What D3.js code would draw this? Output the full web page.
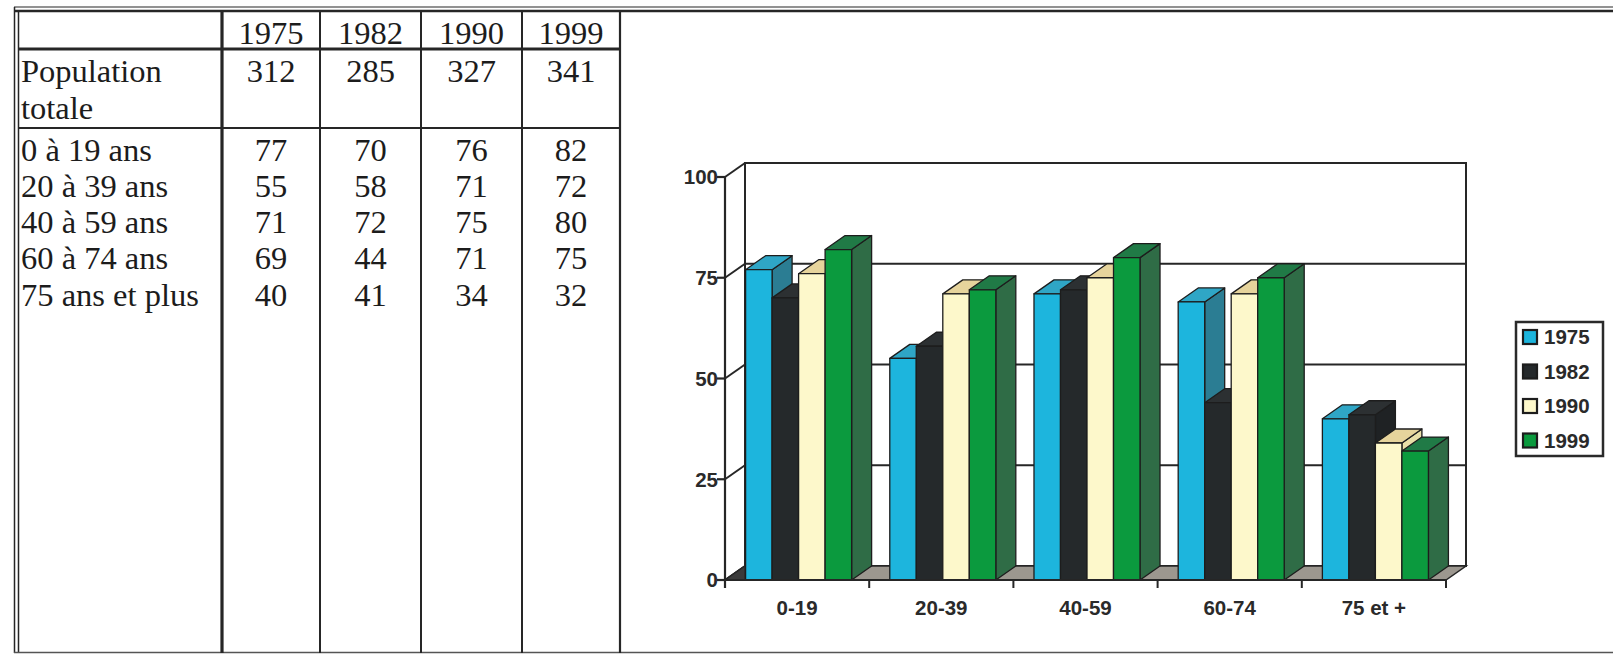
<!DOCTYPE html>
<html>
<head>
<meta charset="utf-8">
<script src="https://cdn.jsdelivr.net/npm/d3@7"></script>
<style>
  html, body { margin: 0; padding: 0; background: #fff; }
  svg { display: block; }
</style>
</head>
<body>
<svg id="fig" width="1613" height="655"></svg>
<script>
// ---- data ----------------------------------------------------------
const years = ["1975", "1982", "1990", "1999"];
const totals = [312, 285, 327, 341];
const ageRows = ["0 à 19 ans", "20 à 39 ans", "40 à 59 ans", "60 à 74 ans", "75 ans et plus"];
const ageGroups = ["0-19", "20-39", "40-59", "60-74", "75 et +"];
const v1975 = [77, 55, 71, 69, 40];
const v1982 = [70, 58, 72, 44, 41];
const v1990 = [76, 71, 75, 71, 34];
const v1999 = [82, 72, 80, 75, 32];
const yTicks = [0, 25, 50, 75, 100];

const series = [v1975, v1982, v1990, v1999];

// face colours per year: front, side, top
const palette = {
  "1975": { front: "#1db5dd", side: "#2b7d93", top: "#2fa6c6" },
  "1982": { front: "#25292b", side: "#1f2224", top: "#2c3032" },
  "1990": { front: "#fdf8cb", side: "#e9dfa8", top: "#e6d49c" },
  "1999": { front: "#0b9a3e", side: "#2f6c46", top: "#207a46" }
};

const ink = "#262626";
const svg = d3.select("#fig");

// ---- frame and table ------------------------------------------------
const frame = svg.append("g").attr("stroke", ink).attr("fill", "none");
frame.append("line").attr("x1", 14).attr("x2", 1613).attr("y1", 7).attr("y2", 7).attr("stroke-width", 1.2);
frame.append("line").attr("x1", 14).attr("x2", 1613).attr("y1", 11).attr("y2", 11).attr("stroke-width", 2.6);
frame.append("line").attr("x1", 14.5).attr("x2", 14.5).attr("y1", 7).attr("y2", 653).attr("stroke-width", 1.5);
frame.append("line").attr("x1", 18.5).attr("x2", 18.5).attr("y1", 11).attr("y2", 653).attr("stroke-width", 1.5);
frame.append("line").attr("x1", 14).attr("x2", 1613).attr("y1", 652.5).attr("y2", 652.5)
  .attr("stroke", "#555").attr("stroke-width", 1.5);

const colEdges = [18, 222, 320, 421, 522, 620];
const colWidths = [0, 3.2, 2, 2, 2, 2.2];
colEdges.slice(1).forEach((cx, i) => {
  frame.append("line").attr("x1", cx).attr("x2", cx).attr("y1", 11).attr("y2", 653)
    .attr("stroke-width", colWidths[i + 1]);
});
frame.append("line").attr("x1", 18).attr("x2", 620).attr("y1", 49).attr("y2", 49).attr("stroke-width", 3.2);
frame.append("line").attr("x1", 18).attr("x2", 620).attr("y1", 128).attr("y2", 128).attr("stroke-width", 2);

const table = svg.append("g")
  .attr("font-family", "'Liberation Serif', 'Times New Roman', serif")
  .attr("font-size", 32.5)
  .attr("fill", "#1c1c1c");

const colCenter = i => (colEdges[i + 1] + colEdges[i + 2]) / 2;

table.selectAll("text.year").data(years).join("text")
  .attr("x", (d, i) => colCenter(i)).attr("y", 44)
  .attr("text-anchor", "middle").text(d => d);

table.append("text").attr("x", 21).attr("y", 82).text("Population");
table.append("text").attr("x", 21).attr("y", 118.5).text("totale");
table.selectAll("text.total").data(totals).join("text")
  .attr("x", (d, i) => colCenter(i)).attr("y", 82)
  .attr("text-anchor", "middle").text(d => d);

const rowY = i => 160.5 + i * 36.3;
table.selectAll("text.age").data(ageRows).join("text")
  .attr("x", 21).attr("y", (d, i) => rowY(i)).text(d => d);

series.forEach((vals, j) => {
  table.selectAll(null).data(vals).join("text")
    .attr("x", colCenter(j)).attr("y", (d, i) => rowY(i))
    .attr("text-anchor", "middle").text(d => d);
});

// ---- 3-D column chart ----------------------------------------------
const x = d3.scaleBand().domain(ageGroups).range([725, 1446]);
const inner = d3.scaleBand().domain(years).range([0, x.bandwidth()]).paddingOuter(0.72);
const y = d3.scaleLinear().domain([0, 100]).range([580, 177]);
const DX = 20, DY = 14;   // depth offset of the back plane
const [xl, xr] = x.range();

const chart = svg.append("g");

// back wall
chart.append("rect")
  .attr("x", xl + DX).attr("y", y(100) - DY)
  .attr("width", xr - xl).attr("height", y(0) - y(100))
  .attr("fill", "#fff").attr("stroke", ink).attr("stroke-width", 2);

// gridlines on the back wall and the slanted side-wall lines
chart.selectAll("line.grid").data(yTicks).join("line")
  .attr("x1", xl + DX).attr("x2", xr + DX)
  .attr("y1", d => y(d) - DY).attr("y2", d => y(d) - DY)
  .attr("stroke", ink).attr("stroke-width", 2);
chart.selectAll("line.side").data(yTicks).join("line")
  .attr("x1", xl).attr("x2", xl + DX)
  .attr("y1", d => y(d)).attr("y2", d => y(d) - DY)
  .attr("stroke", ink).attr("stroke-width", 2);

// floor, with its darker left corner
chart.append("path")
  .attr("d", `M${xl},${y(0)}L${xr},${y(0)}L${xr + DX},${y(0) - DY}L${xl + DX},${y(0) - DY}Z`)
  .attr("fill", "#9c978f").attr("stroke", ink).attr("stroke-width", 1.5);
chart.append("path")
  .attr("d", `M${xl},${y(0)}L${xl + DX},${y(0) - DY}L${xl + DX},${y(0)}Z`)
  .attr("fill", "#3a3a3a").attr("stroke", ink).attr("stroke-width", 1.2);

// columns, drawn left to right so each front face hides its neighbour's side
const bars = chart.append("g").attr("stroke", "#1d1d1d").attr("stroke-width", 1.3)
  .attr("stroke-linejoin", "round");
ageGroups.forEach((g, i) => {
  years.forEach((yr, j) => {
    const v = series[j][i];
    const x0 = x(g) + inner(yr) + 1.5;
    const w = inner.bandwidth();
    const yt = y(v), yb = y(0);
    const c = palette[yr];
    bars.append("path")
      .attr("d", `M${x0 + w},${yt}L${x0 + w + DX},${yt - DY}L${x0 + w + DX},${yb - DY}L${x0 + w},${yb}Z`)
      .attr("fill", c.side);
    bars.append("path")
      .attr("d", `M${x0},${yt}L${x0 + DX},${yt - DY}L${x0 + w + DX},${yt - DY}L${x0 + w},${yt}Z`)
      .attr("fill", c.top);
    bars.append("rect")
      .attr("x", x0).attr("y", yt).attr("width", w).attr("height", yb - yt)
      .attr("fill", c.front);
  });
});

// value axis on the front left edge
const axisFont = "'Liberation Sans', Arial, Helvetica, sans-serif";
chart.append("line").attr("x1", xl).attr("x2", xl).attr("y1", y(100)).attr("y2", y(0) + 8)
  .attr("stroke", ink).attr("stroke-width", 2.2);
chart.selectAll("line.ytick").data(yTicks).join("line")
  .attr("x1", xl - 8).attr("x2", xl).attr("y1", d => y(d)).attr("y2", d => y(d))
  .attr("stroke", ink).attr("stroke-width", 2.2);
chart.selectAll("text.ylab").data(yTicks).join("text")
  .attr("x", xl - 7).attr("y", d => y(d)).attr("dy", "0.36em")
  .attr("text-anchor", "end")
  .attr("font-family", axisFont).attr("font-weight", "bold").attr("font-size", 20.5)
  .attr("fill", "#2a2a2a").text(d => d);

// category axis
chart.append("line").attr("x1", xl).attr("x2", xr).attr("y1", y(0)).attr("y2", y(0))
  .attr("stroke", ink).attr("stroke-width", 2.2);
const edges = ageGroups.map(g => x(g)).concat([xr]);
chart.selectAll("line.xtick").data(edges).join("line")
  .attr("x1", d => d).attr("x2", d => d).attr("y1", y(0)).attr("y2", y(0) + 8)
  .attr("stroke", ink).attr("stroke-width", 2);
chart.selectAll("text.xlab").data(ageGroups).join("text")
  .attr("x", d => x(d) + x.bandwidth() / 2).attr("y", 615)
  .attr("text-anchor", "middle")
  .attr("font-family", axisFont).attr("font-weight", "bold").attr("font-size", 20.5)
  .attr("fill", "#2a2a2a").text(d => d);

// legend
const legend = svg.append("g");
legend.append("rect").attr("x", 1516).attr("y", 322).attr("width", 87).attr("height", 134)
  .attr("fill", "#fff").attr("stroke", "#2a2a2a").attr("stroke-width", 2.5);
const lg = legend.selectAll("g.item").data(years).join("g")
  .attr("transform", (d, i) => `translate(1523, ${337 + i * 34.5})`);
lg.append("rect").attr("x", 0).attr("y", -7).attr("width", 14).attr("height", 14)
  .attr("fill", d => palette[d].front).attr("stroke", "#1d1d1d").attr("stroke-width", 2.2);
lg.append("text").attr("x", 21).attr("dy", "0.36em")
  .attr("font-family", axisFont).attr("font-weight", "bold").attr("font-size", 20.5)
  .attr("fill", "#2a2a2a").text(d => d);
</script>
</body>
</html>
